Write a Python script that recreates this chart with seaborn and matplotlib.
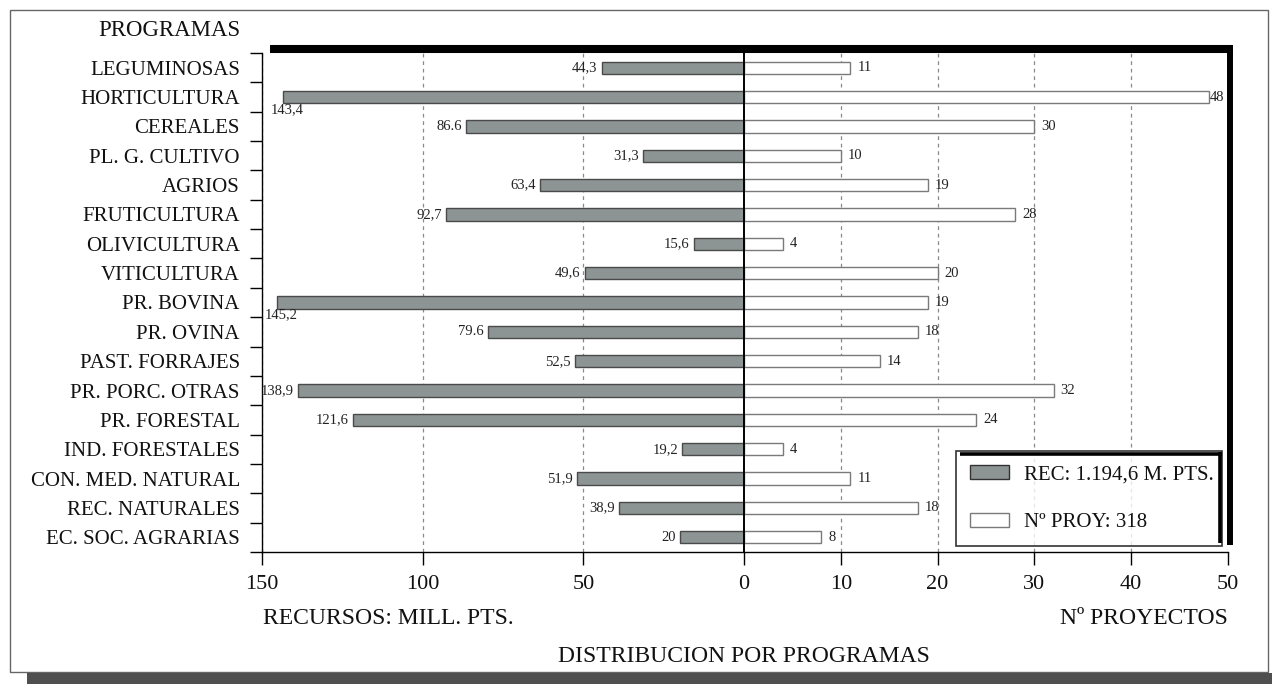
import matplotlib
matplotlib.use("Agg")
import numpy as np
import pandas as pd
import seaborn as sns
import matplotlib.pyplot as plt
from matplotlib.patches import Patch, Rectangle
from matplotlib.lines import Line2D

# ---------------- data ----------------
programas = ["LEGUMINOSAS", "HORTICULTURA", "CEREALES", "PL. G. CULTIVO", "AGRIOS",
             "FRUTICULTURA", "OLIVICULTURA", "VITICULTURA", "PR. BOVINA", "PR. OVINA",
             "PAST. FORRAJES", "PR. PORC. OTRAS", "PR. FORESTAL", "IND. FORESTALES",
             "CON. MED. NATURAL", "REC. NATURALES", "EC. SOC. AGRARIAS"]
recursos = [44.3, 143.4, 86.6, 31.3, 63.4, 92.7, 15.6, 49.6, 145.2, 79.6,
            52.5, 138.9, 121.6, 19.2, 51.9, 38.9, 20]
recursos_txt = ["44,3", "143,4", "86.6", "31,3", "63,4", "92,7", "15,6", "49,6", "145,2",
                "79.6", "52,5", "138,9", "121,6", "19,2", "51,9", "38,9", "20"]
proyectos = [11, 48, 30, 10, 19, 28, 4, 20, 19, 18, 14, 32, 24, 4, 11, 18, 8]
rec_ticks = [150, 100, 50, 0]
proy_ticks = [10, 20, 30, 40, 50]
legend_labels = ["REC: 1.194,6 M. PTS.", "Nº PROY: 318"]

df = pd.DataFrame({"programa": programas, "recursos": recursos, "proyectos": proyectos})

# ---------------- style ----------------
sns.set_style("ticks")
plt.rcParams["font.family"] = ["Liberation Serif", "DejaVu Serif"]

W, H = 1272, 684
fig = plt.figure(figsize=(W / 100, H / 100), dpi=100)
fig.patch.set_facecolor("white")

def fx(x):
    return x / W

def fy(y):
    return 1 - y / H

top_px, bot_px = 53, 552
x0_px, xz_px, x1_px = 262, 744, 1228
axL = fig.add_axes([fx(x0_px), fy(bot_px), (xz_px - x0_px) / W, (bot_px - top_px) / H])
axR = fig.add_axes([fx(xz_px), fy(bot_px), (x1_px - xz_px) / W, (bot_px - top_px) / H])

grey = "#8d9494"
sns.barplot(data=df, y="programa", x="recursos", order=programas, orient="h",
            color=grey, saturation=1, width=0.42, edgecolor="#4a4a4a", linewidth=1.0, ax=axL)
sns.barplot(data=df, y="programa", x="proyectos", order=programas, orient="h",
            color="white", saturation=1, width=0.42, edgecolor="#7a7a7a", linewidth=1.0, ax=axR)

axL.set_xlim(150, 0)
axR.set_xlim(0, 50)
for ax in (axL, axR):
    ax.set_ylim(len(programas) - 0.5, -0.5)
    ax.set_xlabel("")
    ax.set_ylabel("")
    ax.set_facecolor("white")
    ax.grid(axis="x", linestyle=(0, (3, 3)), color="#8a8a8a", linewidth=0.9)
    ax.grid(axis="y", visible=False)
    ax.set_axisbelow(True)
    ax.spines["top"].set_visible(False)
    ax.spines["right"].set_visible(False)
    ax.spines["bottom"].set_color("black")
    ax.spines["bottom"].set_linewidth(1.0)

axL.set_xticks(rec_ticks)
axL.set_xticklabels([str(t) for t in rec_ticks])
axR.set_xticks(proy_ticks)
axR.set_xticklabels([str(t) for t in proy_ticks])
for ax in (axL, axR):
    ax.tick_params(axis="x", direction="out", length=9.5, width=1.0, color="black",
                   labelsize=16, pad=7, labelcolor="#111111")

# y axis: labels at centres, tick marks at boundaries
axL.set_yticks(range(len(programas)))
axL.set_yticklabels(programas)
axL.set_yticks(np.arange(-0.5, len(programas), 1.0), minor=True)
axL.tick_params(axis="y", which="major", length=0, pad=16, labelsize=15, labelcolor="#111111")
axL.tick_params(axis="y", which="minor", length=9, width=1.0, color="black", direction="out")
axL.spines["left"].set_color("black")
axL.spines["left"].set_linewidth(1.0)

axR.set_yticks([])
axR.spines["left"].set_color("black")
axR.spines["left"].set_linewidth(1.4)
axR.spines["left"].set_zorder(5)

# value labels
for i, (v, t) in enumerate(zip(recursos, recursos_txt)):
    if v > 140:
        axL.annotate(t, xy=(v, i), xytext=(3, -9), textcoords="offset points",
                     ha="center", va="center", fontsize=10.5, color="#222222")
    else:
        axL.annotate(t, xy=(v, i), xytext=(-3, 0), textcoords="offset points",
                     ha="right", va="center", fontsize=10.5, color="#222222")
for i, v in enumerate(proyectos):
    off = 1 if v > 45 else 5
    axR.annotate(str(v), xy=(v, i), xytext=(off, 0), textcoords="offset points",
                 ha="left", va="center", fontsize=10.5, color="#222222")

# heavy frame lines (top and right) of plot area
fig.add_artist(Line2D([fx(270), fx(1233)], [fy(49), fy(49)], color="black", linewidth=5.8,
                      solid_capstyle="butt"))
fig.add_artist(Line2D([fx(1230), fx(1230)], [fy(45), fy(545)], color="black", linewidth=4.3,
                      solid_capstyle="butt"))

# legend
handles = [Patch(facecolor=grey, edgecolor="#333333", linewidth=1.0),
           Patch(facecolor="white", edgecolor="#7a7a7a", linewidth=1.0)]
leg = fig.legend(handles, legend_labels, loc="center",
                 bbox_to_anchor=(fx(956), fy(545), fx(1222) - fx(956), fy(452) - fy(545)),
                 bbox_transform=fig.transFigure, mode="expand", fontsize=15,
                 frameon=True, fancybox=False, borderpad=0.65, labelspacing=1.35,
                 handlelength=1.9, handleheight=0.7, handletextpad=0.7, borderaxespad=0)
leg.get_frame().set_edgecolor("black")
leg.get_frame().set_linewidth(1.2)
for txt in leg.get_texts():
    txt.set_color("#111111")
fig.add_artist(Line2D([fx(960), fx(1222)], [fy(453.5), fy(453.5)], color="black", linewidth=2.6,
                      solid_capstyle="butt", zorder=10))
fig.add_artist(Line2D([fx(1220), fx(1220)], [fy(452), fy(543)], color="black", linewidth=2.6,
                      solid_capstyle="butt", zorder=10))

# texts
fig.text(fx(240), fy(30), "PROGRAMAS", ha="right", va="center", fontsize=16.5, color="#111111")
fig.text(fx(263), fy(619), "RECURSOS: MILL. PTS.", ha="left", va="center", fontsize=17, color="#111111")
fig.text(fx(1228), fy(619), "Nº PROYECTOS", ha="right", va="center", fontsize=17, color="#111111")
fig.text(fx(744), fy(657), "DISTRIBUCION POR PROGRAMAS", ha="center", va="center", fontsize=17,
         color="#111111")

# outer page border and scanned shadow band
fig.add_artist(Rectangle((fx(10), fy(672)), fx(1268) - fx(10), fy(10) - fy(672),
                         transform=fig.transFigure, fill=False, edgecolor="#666666", linewidth=1.0))
fig.add_artist(Rectangle((fx(27), fy(684)), fx(1272) - fx(27), fy(673) - fy(684),
                         transform=fig.transFigure, facecolor="#4f4f4f", edgecolor="none"))

fig.savefig("out.png", dpi=100)
